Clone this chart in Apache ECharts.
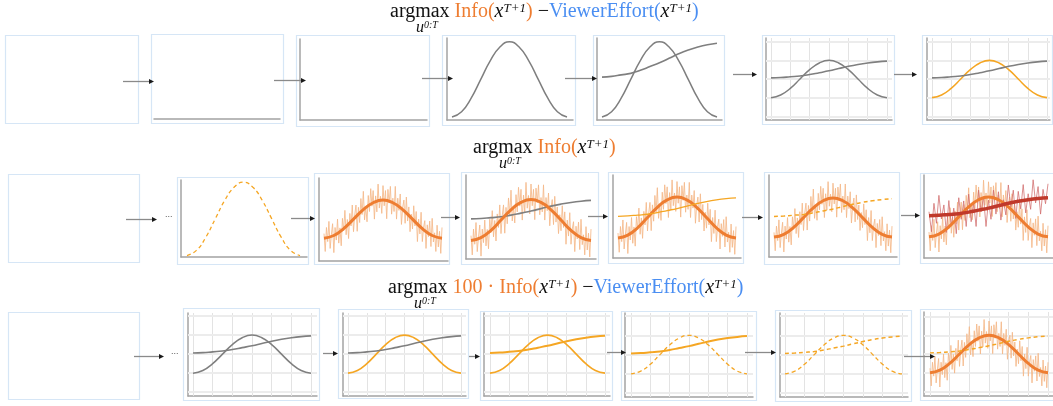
<!DOCTYPE html>
<html><head><meta charset="utf-8">
<script src="https://cdn.jsdelivr.net/npm/echarts@6/dist/echarts.min.js"></script>
<style>html,body{margin:0;padding:0;background:#fff}#c{width:1053px;height:406px}</style>
</head><body><div id="c"></div>
<script>
// ---------------- data ----------------
const curveX = [0,1,2,3,4,5,6,7,8,9,10,11,12];
const infoCurve = [0,0.07,0.25,0.5,0.75,0.93,1,0.93,0.75,0.5,0.25,0.07,0];
const effortCurve = [0.53,0.54,0.56,0.58,0.62,0.67,0.72,0.78,0.84,0.89,0.93,0.96,0.98];
const observedInfo = [0.12,-0.35,0.28,-0.09,0.44,-0.27,0.09,0.38,-0.38,0.28,-0.05,0.50,-0.13,0.27,-0.20,0.52,0.20,0.73,0.09,0.49,-0.01,0.65,0.32,0.87,0.17,0.61,0.87,0.18,0.81,0.41,1.04,0.62,1.23,0.48,0.82,0.43,1.12,0.70,1.30,0.84,1.25,0.50,1.11,0.69,1.42,0.79,1.10,0.65,1.38,0.85,1.25,0.51,1.28,0.92,1.36,0.63,1.05,0.70,1.36,0.50,1.05,0.73,1.16,0.36,0.80,1.00,0.39,1.08,0.45,0.82,0.17,0.63,0.24,0.85,0.32,0.70,-0.09,0.50,0.11,0.68,-0.09,0.28,0.46,-0.27,0.35,0.04,0.45,-0.22,0.52,-0.10,0.14,-0.35,0.34,-0.23,0.18,-0.40,0.28];
const observedEffort = [0.63,0.13,0.84,0.34,1.04,0.45,0.80,0.11,0.91,0.27,0.72,0.08,0.98,0.44,0.90,0.26,1.07,0.38,0.85,0.26,1.17,0.63,1.00,0.26,0.92,0.44,1.17,0.57,1.13,0.42,0.93,0.55,1.30,0.75,1.17,0.46,1.14,0.70,1.31,0.60,1.08,0.69,1.43,0.85,1.26,0.57,1.19,0.83,1.33];
const gridXTicks = [0,2,4,6,8,10,12];
const gridYTicks = [-0.5,0,0.5,1,1.5];

// ---------------- layout / styles ----------------
const FONT = '"Liberation Serif","DejaVu Serif",serif';
const C = {gray:'#7f7f7f', orange:'#f5a623', thick:'#ee7d31', noise:'#f5b889', red:'#c0392b',
  redNoise:'#d06a6a', axis:'#a3a3a3', box:'#d6e6f6', gridV:'#e3e3e3', gridH:'#ececec'};

const panels = [
  // row 1
  {box:[5,35,138,123]},
  {box:[151,34,283,123], p:{ax:154,xr:280,dl:160,dr:275,top:40,bottom:119,yr:[0,1],noY:true}, s:[]},
  {box:[296,35,429,126], p:{ax:300,xr:427,dl:305,dr:422,top:39,bottom:120,yr:[0,1]}, s:[]},
  {box:[442,35,575,125], p:{ax:447,xr:573,dl:452,dr:567,top:38,bottom:120,yr:[-0.04,1.05]}, s:['bellGray']},
  {box:[593,35,724,125], p:{ax:597,xr:722,dl:602,dr:717,top:38,bottom:120,yr:[-0.04,1.05]}, s:['bellGray','sigGray']},
  {box:[762,35,894,124], p:{ax:766,xr:892,dl:771,dr:887,top:38,bottom:120,yr:[-0.6,1.6],grid:true}, s:['bellGray','sigGray']},
  {box:[922,35,1052,124], p:{ax:927,xr:1050,dl:932,dr:1047,top:38,bottom:120,yr:[-0.6,1.6],grid:true}, s:['bellOrange','sigGray']},
  // row 2
  {box:[8,174,139,262]},
  {box:[177,177,308,264], p:{ax:181,xr:307,dl:187,dr:300,top:180,bottom:257,yr:[-0.02,1.03]}, s:['bellDash']},
  {box:[314,173,449,264], p:{ax:319,xr:448,dl:324,dr:442,top:178,bottom:261,yr:[-0.6,1.58]}, s:['noiseOrange','bellThick']},
  {box:[461,172,598,264], p:{ax:466,xr:596,dl:471,dr:591,top:175,bottom:259,yr:[-0.45,1.6]}, s:['noiseOrange','bellThick','sigGray']},
  {box:[608,172,743,263], p:{ax:613,xr:741,dl:618,dr:736,top:175,bottom:258,yr:[-0.49,1.54]}, s:['noiseOrange','bellThick','sigOrange']},
  {box:[764,172,899,264], p:{ax:769,xr:897,dl:774,dr:892,top:175,bottom:257,yr:[-0.51,1.59]}, s:['noiseOrange','bellThick','sigDash']},
  {box:[920,173,1060,263], p:{ax:924,xr:1053,dl:929,dr:1048,top:175,bottom:258,yr:[-0.53,1.55]}, s:['noiseOrange','noiseRed','bellThick','sigRed']},
  // row 3
  {box:[8,312,139,399]},
  {box:[183,308,319,400], p:{ax:188,xr:317,dl:193,dr:311,top:313,bottom:396,yr:[-0.6,1.58],grid:true}, s:['bellGray','sigGray']},
  {box:[338,309,468,398], p:{ax:343,xr:466,dl:348,dr:461,top:313,bottom:396,yr:[-0.6,1.58],grid:true}, s:['bellOrange','sigGray']},
  {box:[480,311,612,400], p:{ax:484,xr:610,dl:490,dr:605,top:313,bottom:396,yr:[-0.6,1.58],grid:true}, s:['bellOrange','sigOrangeThick']},
  {box:[621,311,756,400], p:{ax:625,xr:753,dl:631,dr:747,top:313,bottom:397,yr:[-0.6,1.58],grid:true}, s:['bellDash','sigOrangeThick']},
  {box:[775,310,911,401], p:{ax:780,xr:908,dl:785,dr:902,top:313,bottom:397,yr:[-0.6,1.58],grid:true}, s:['bellDash','sigDash']},
  {box:[920,309,1060,400], p:{ax:924,xr:1053,dl:930,dr:1048,top:312,bottom:396,yr:[-0.62,1.62],grid:true}, s:['noiseOrange','bellThick','sigDash']}
];

const arrows = [
  [123,154,81],[274,306,80],[422,453,78],[565,597,78],[733,757,74],[894,917,74],
  [126,157,219],[291,315,218],[441,460,217],[588,608,216],[742,763,217],[901,920,215],
  [134,164,356],[323,338,353],[469,480,356],[607,626,352],[745,776,352],[904,935,356]
];
const dots = [[165,219],[171,356]];

// ---------------- build ----------------
const grids = [], xAxes = [], yAxes = [], series = [], graphics = [];
const curve = arr => curveX.map((x,i)=>[x, arr[i]]);
const dense = arr => arr.map((v,i)=>[i*12/(arr.length-1), v]);

function mk(kind, gi){
  const base = {type:'line', xAxisIndex:gi, yAxisIndex:gi, symbol:'none', silent:true, z:3};
  const L = (data, style, extra) => Object.assign({}, base, {data, lineStyle:style}, extra||{});
  switch(kind){
    case 'bellGray': return L(curve(infoCurve), {color:C.gray,width:1.5}, {smooth:0.5});
    case 'bellOrange': return L(curve(infoCurve), {color:C.orange,width:1.6}, {smooth:0.5});
    case 'bellDash': return L(curve(infoCurve), {color:C.orange,width:1.3,type:[4,3]}, {smooth:0.5});
    case 'bellThick': return L(curve(infoCurve), {color:C.thick,width:3}, {smooth:0.5, z:5});
    case 'sigGray': return L(curve(effortCurve), {color:C.gray,width:1.6}, {smooth:0.5});
    case 'sigOrange': return L(curve(effortCurve), {color:C.orange,width:1.3}, {smooth:0.5, z:6});
    case 'sigOrangeThick': return L(curve(effortCurve), {color:C.orange,width:2}, {smooth:0.5});
    case 'sigDash': return L(curve(effortCurve), {color:C.orange,width:1.5,type:[4,3]}, {smooth:0.5, z:6});
    case 'sigRed': return L(curve(effortCurve), {color:C.red,width:3.5}, {smooth:0.5, z:6});
    case 'noiseOrange': return L(dense(observedInfo), {color:C.noise,width:1,opacity:0.85}, {z:2});
    case 'noiseRed': return L(dense(observedEffort), {color:C.redNoise,width:1,opacity:0.75}, {z:2});
  }
}

panels.forEach(pn=>{
  const [x0,y0,x1,y1] = pn.box;
  graphics.push({type:'rect', z:0, silent:true, shape:{x:x0+0.5,y:y0+0.5,width:x1-x0,height:y1-y0},
    style:{fill:'none', stroke:C.box, lineWidth:1.2}});
  if(!pn.p) return;
  const p = pn.p, gi = grids.length;
  const ppu = (p.dr - p.dl)/12;
  grids.push({left:p.ax, top:p.top, width:p.xr-p.ax, height:p.bottom-p.top, containLabel:false});
  const axLine = {show:true, onZero:false, lineStyle:{color:C.axis, width:1.5}};
  xAxes.push({gridIndex:gi, type:'value', min:-(p.dl-p.ax)/ppu, max:12+(p.xr-p.dr)/ppu,
    axisLine:axLine, axisTick:{show:false}, axisLabel:{show:false}, splitLine:{show:false}});
  yAxes.push({gridIndex:gi, type:'value', min:p.yr[0], max:p.yr[1],
    axisLine:Object.assign({}, axLine, {show:!p.noY}), axisTick:{show:false}, axisLabel:{show:false}, splitLine:{show:false}});
  if(p.grid){
    series.push({type:'line', xAxisIndex:gi, yAxisIndex:gi, data:[], silent:true, z:1,
      markLine:{silent:true, z:1, symbol:['none','none'], label:{show:false}, animation:false,
        data:[...gridXTicks.map(v=>({xAxis:v, lineStyle:{color:C.gridV,width:1,type:'solid'}})),
              ...gridYTicks.map(v=>({yAxis:v, lineStyle:{color:C.gridH,width:2,type:'solid'}}))]}});
  }
  pn.s.forEach(k=>series.push(mk(k, gi)));
});

arrows.forEach(([a,b,y])=>{
  graphics.push({type:'line', z:50, silent:true, shape:{x1:a,y1:y+0.5,x2:b-3,y2:y+0.5}, style:{stroke:'#8a8a8a', lineWidth:1.3}});
  graphics.push({type:'polygon', z:51, silent:true, shape:{points:[[b,y+0.5],[b-5,y-2],[b-5,y+3]]}, style:{fill:'#1a1a1a'}});
});
dots.forEach(([x,y])=>graphics.push({type:'text', z:50, x, y, style:{text:'...', fill:'#555', fontSize:9, fontFamily:'sans-serif', verticalAlign:'bottom'}}));

const FS = 20;
const rich = {
  k:{fill:'#111', fontSize:FS, fontFamily:FONT},
  o:{fill:'#ee7d31', fontSize:FS, fontFamily:FONT},
  b:{fill:'#4a8ef2', fontSize:FS, fontFamily:FONT},
  i:{fill:'#111', fontSize:FS, fontFamily:FONT, fontStyle:'italic'},
  s:{fill:'#111', fontSize:13, fontFamily:FONT, fontStyle:'italic', verticalAlign:'top'},
  u:{fill:'#111', fontSize:16, fontFamily:FONT, fontStyle:'italic'},
  us:{fill:'#111', fontSize:10, fontFamily:FONT, fontStyle:'italic', verticalAlign:'top'}
};
const titles = [
  {x:390, y:12, sx:416, sy:28, text:'{k|argmax} {o|Info(}{i|x}{s|T+1}{o|)} {k|−}{b|ViewerEffort(}{i|x}{s|T+1}{b|)}'},
  {x:473, y:148, sx:499, sy:164, text:'{k|argmax} {o|Info(}{i|x}{s|T+1}{o|)}'},
  {x:388, y:288, sx:414, sy:304, text:'{k|argmax} {o|100 · Info(}{i|x}{s|T+1}{o|)} {k|−}{b|ViewerEffort(}{i|x}{s|T+1}{b|)}'}
];
titles.forEach(t=>{
  graphics.push({type:'text', z:60, x:t.x, y:t.y, style:{text:t.text, rich, fontSize:FS, fontFamily:FONT, fill:'#111', align:'left', verticalAlign:'middle'}});
  graphics.push({type:'text', z:60, x:t.sx, y:t.sy, style:{text:'{u|u}{us|0:T}', rich, fontSize:16, fontFamily:FONT, align:'left', verticalAlign:'middle'}});
});

const chart = echarts.init(document.getElementById('c'), null, {renderer:'canvas'});
chart.setOption({animation:false, backgroundColor:'#fff', grid:grids, xAxis:xAxes, yAxis:yAxes, series, graphic:graphics});
</script></body></html>
